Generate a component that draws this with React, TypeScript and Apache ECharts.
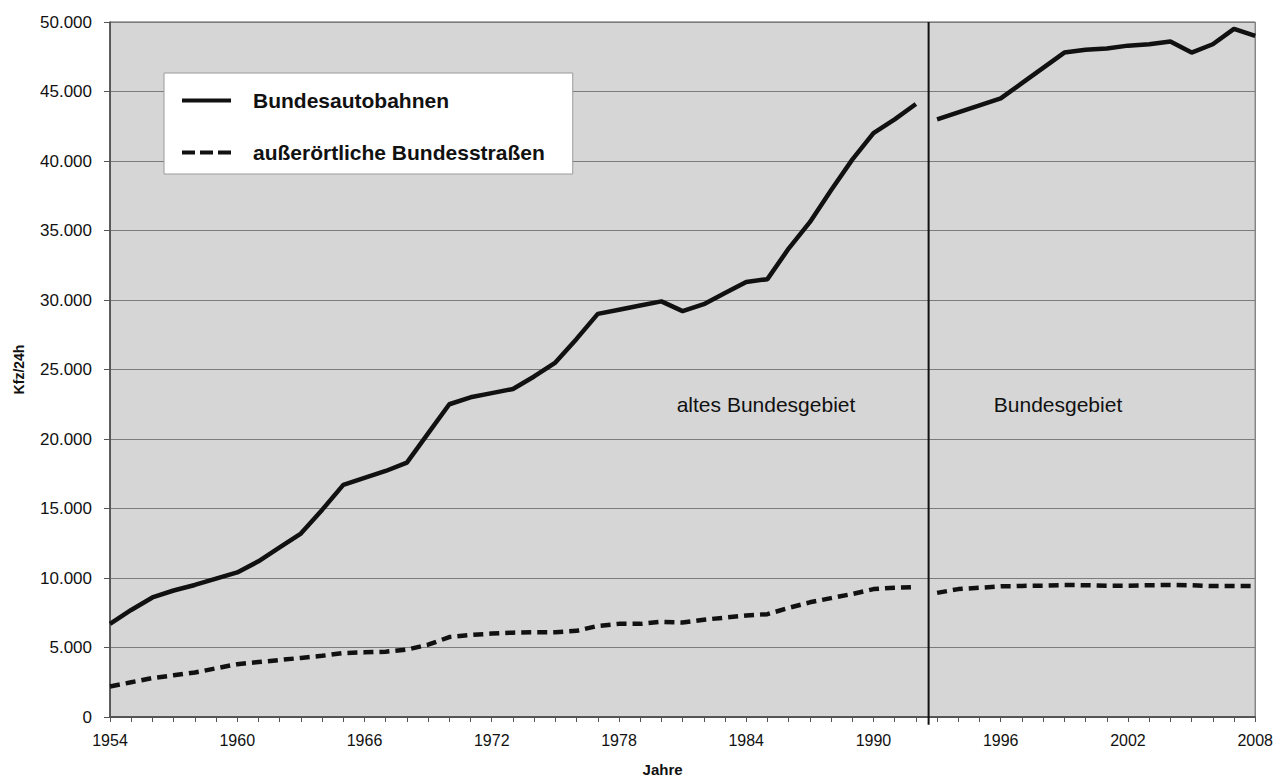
import React, { useEffect, useRef } from "react";
import * as echarts from "echarts";

const years: string[] = Array.from({ length: 55 }, (_, i) => String(1954 + i));

// Bundesautobahnen, altes Bundesgebiet 1954–1992
const autobahnOld: number[] = [
  6700, 7700, 8600, 9100, 9500, 9950, 10400, 11200, 12200, 13200,
  14900, 16700, 17200, 17700, 18300, 20400, 22500, 23000, 23300, 23600,
  24500, 25500, 27200, 29000, 29300, 29600, 29900, 29200, 29700, 30500,
  31300, 31500, 33700, 35600, 37900, 40100, 42000, 43000, 44100,
];
// Bundesautobahnen, Bundesgebiet 1993–2008
const autobahnNew: number[] = [
  43000, 43500, 44000, 44500, 45600, 46700, 47800, 48000, 48100, 48300,
  48400, 48600, 47800, 48400, 49500, 49000,
];
// außerörtliche Bundesstraßen, altes Bundesgebiet 1954–1992
const strassenOld: number[] = [
  2200, 2500, 2800, 3000, 3200, 3500, 3800, 3950, 4100, 4250,
  4400, 4600, 4650, 4700, 4850, 5200, 5750, 5900, 6000, 6070,
  6100, 6100, 6200, 6550, 6700, 6700, 6850, 6800, 7000, 7150,
  7300, 7400, 7850, 8250, 8550, 8850, 9200, 9300, 9350,
];
// außerörtliche Bundesstraßen, Bundesgebiet 1993–2008
const strassenNew: number[] = [
  8930, 9200, 9300, 9400, 9430, 9450, 9500, 9480, 9450, 9450,
  9480, 9500, 9480, 9420, 9430, 9430,
];

const separatorYear = 1992.6;
const seriesNames = ["Bundesautobahnen", "außerörtliche Bundesstraßen"];
const regionLabels = ["altes Bundesgebiet", "Bundesgebiet"];

const FONT = "Liberation Sans, Arial, sans-serif";

function fmt(v: number): string {
  if (v === 0) return "0";
  const s = String(Math.round(v));
  return s.replace(/\B(?=(\d{3})+(?!\d))/g, ".");
}

export default function App() {
  const ref = useRef<HTMLDivElement>(null);

  useEffect(() => {
    if (!ref.current) return;
    const chart = echarts.init(ref.current, null, { renderer: "svg" });

    const nOld = autobahnOld.length;
    const nNew = autobahnNew.length;
    const padOld = (arr: number[]) => [...arr, ...Array(nNew).fill(null)];
    const padNew = (arr: number[]) => [...Array(nOld).fill(null), ...arr];

    const solid = { color: "#111", width: 4.5, type: "solid" as const };
    const dashed = { color: "#111", width: 4.5, type: [10, 6] as any };

    chart.setOption({
      animation: false,
      backgroundColor: "#ffffff",
      textStyle: { fontFamily: FONT },
      grid: {
        left: 110,
        right: 17,
        top: 22,
        bottom: 62,
        show: true,
        backgroundColor: "#d6d6d6",
        borderColor: "#555",
        borderWidth: 1,
      },
      legend: {
        data: [
          { name: seriesNames[0] },
          { name: seriesNames[1], lineStyle: { type: [13, 5] } },
        ],
        orient: "vertical",
        left: 164,
        top: 73,
        backgroundColor: "#ffffff",
        borderColor: "#9a9a9a",
        borderWidth: 1,
        padding: [16, 28, 10, 16],
        itemWidth: 49,
        itemHeight: 14,
        itemGap: 29,
        itemStyle: { opacity: 0 },
        lineStyle: { width: 4, color: "#111" },
        textStyle: {
          fontFamily: FONT,
          fontSize: 21,
          fontWeight: "bold",
          color: "#111",
          lineHeight: 23,
          padding: [0, 0, 0, 17],
        },
      },
      xAxis: [
        {
          type: "category",
          data: years,
          boundaryGap: false,
          axisLine: { lineStyle: { color: "#444", width: 1.5 } },
          axisTick: { show: true, interval: 0, length: 5, lineStyle: { color: "#555" } },
          axisLabel: {
            interval: 5,
            margin: 15,
            fontSize: 16,
            color: "#111",
            fontFamily: FONT,
          },
          splitLine: { show: false },
          name: "Jahre",
          nameLocation: "middle",
          nameGap: 45,
          nameTextStyle: {
            fontSize: 15,
            fontWeight: "bold",
            color: "#111",
            fontFamily: FONT,
            padding: [0, 40, 0, 0],
          },
        },
        {
          type: "value",
          min: 1954,
          max: 2008,
          show: false,
        },
      ],
      yAxis: {
        type: "value",
        min: 0,
        max: 50000,
        interval: 5000,
        axisLine: { show: true, lineStyle: { color: "#444", width: 1.5 } },
        axisTick: { show: true, length: 6, lineStyle: { color: "#555" } },
        axisLabel: {
          formatter: (v: number) => fmt(v),
          margin: 18,
          fontSize: 17,
          color: "#111",
          fontFamily: FONT,
        },
        splitLine: { lineStyle: { color: "#7c7c7c", width: 1 } },
        name: "Kfz/24h",
        nameLocation: "middle",
        nameRotate: 90,
        nameGap: 84,
        nameTextStyle: {
          fontSize: 14,
          fontWeight: "bold",
          color: "#111",
          fontFamily: FONT,
        },
      },
      graphic: [
        {
          type: "text",
          x: 766,
          y: 404,
          style: {
            text: regionLabels[0],
            fontSize: 21,
            fontFamily: FONT,
            fill: "#111",
            textAlign: "center",
            textVerticalAlign: "middle",
          },
        },
        {
          type: "text",
          x: 1058,
          y: 404,
          style: {
            text: regionLabels[1],
            fontSize: 21,
            fontFamily: FONT,
            fill: "#111",
            textAlign: "center",
            textVerticalAlign: "middle",
          },
        },
      ],
      series: [
        {
          name: seriesNames[0],
          type: "line",
          data: padOld(autobahnOld),
          symbol: "none",
          lineStyle: solid,
          itemStyle: { color: "#111" },
          connectNulls: false,
          z: 3,
        },
        {
          name: seriesNames[0],
          type: "line",
          data: padNew(autobahnNew),
          symbol: "none",
          lineStyle: solid,
          itemStyle: { color: "#111" },
          connectNulls: false,
          z: 3,
        },
        {
          name: seriesNames[1],
          type: "line",
          data: padOld(strassenOld),
          symbol: "none",
          lineStyle: dashed,
          itemStyle: { color: "#111" },
          connectNulls: false,
          z: 3,
        },
        {
          name: seriesNames[1],
          type: "line",
          data: padNew(strassenNew),
          symbol: "none",
          lineStyle: dashed,
          itemStyle: { color: "#111" },
          connectNulls: false,
          z: 3,
        },
        {
          name: "separator",
          type: "line",
          xAxisIndex: 1,
          data: [
            [separatorYear, -550],
            [separatorYear, 50000],
          ],
          symbol: "none",
          clip: false,
          lineStyle: { color: "#111", width: 2 },
          z: 4,
        },
      ],
    });

    return () => chart.dispose();
  }, []);

  return (
    <div
      ref={ref}
      style={{ position: "fixed", left: 0, top: 0, width: 1276, height: 782 }}
    />
  );
}
